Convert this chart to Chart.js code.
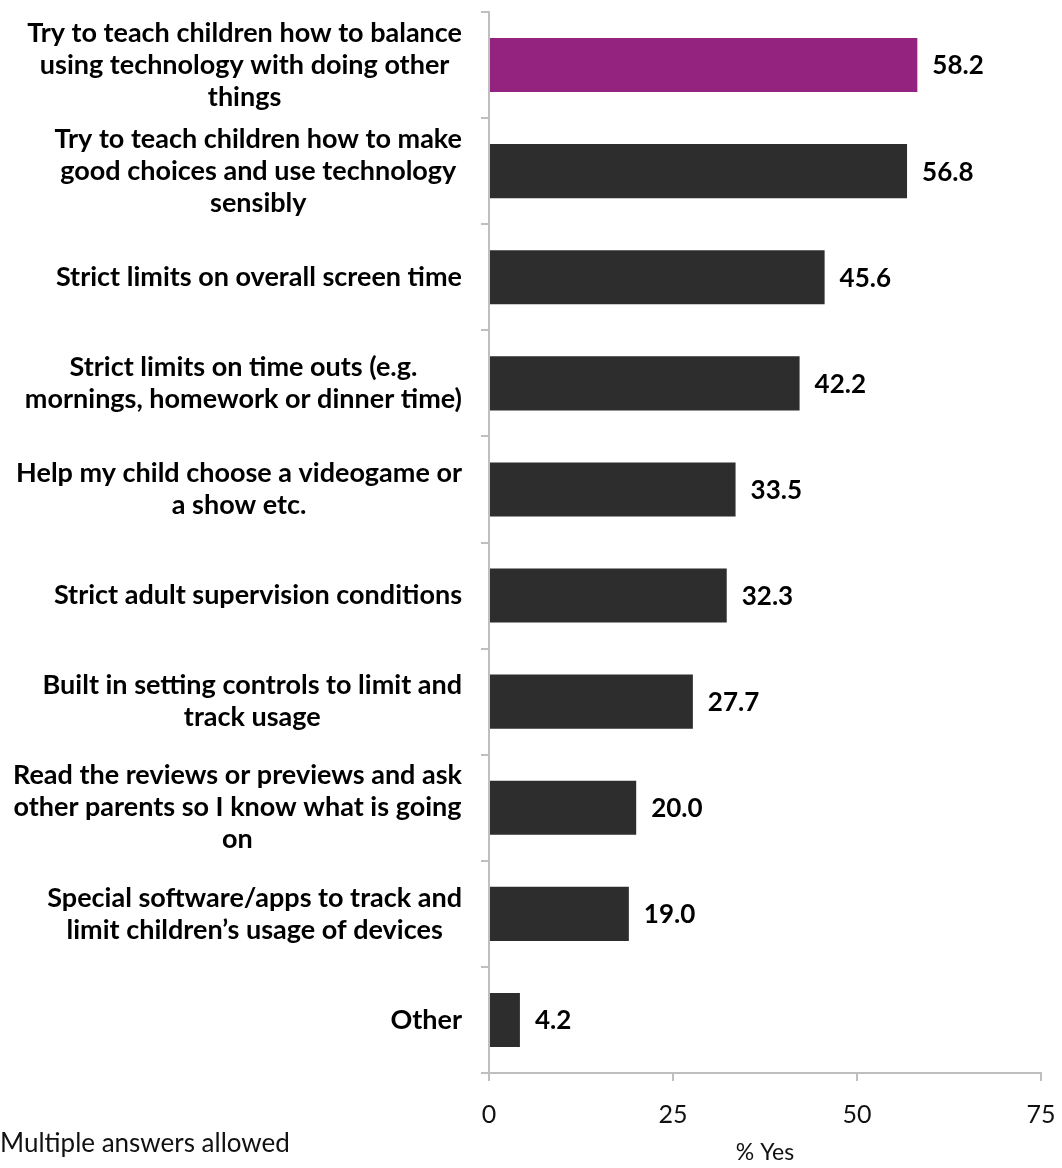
<!DOCTYPE html>
<html>
<head>
<meta charset="utf-8">
<script src="https://cdn.jsdelivr.net/npm/chart.js@4/dist/chart.umd.min.js"></script>
<style>
  html, body { margin: 0; padding: 0; background: #fff; }
  #wrap { position: relative; width: 1062px; height: 1168px; }
  #note {
    position: absolute; left: 0; top: 1126px;
    font: 26px Lato, sans-serif; color: #111;
  }
</style>
</head>
<body>
<div id="wrap">
  <canvas id="chart" width="1062" height="1168"></canvas>
  <div id="note">Multiple answers allowed</div>
</div>
<script>
// categories, one array of lines per label
const categories = [
  ['Try to teach children how to balance', 'using technology with doing other', 'things'],
  ['Try to teach children how to make', 'good choices and use technology', 'sensibly'],
  ['Strict limits on overall screen time'],
  ['Strict limits on time outs (e.g.', 'mornings, homework or dinner time)'],
  ['Help my child choose a videogame or', 'a show etc.'],
  ['Strict adult supervision conditions'],
  ['Built in setting controls to limit and', 'track usage'],
  ['Read the reviews or previews and ask', 'other parents so I know what is going', 'on'],
  ['Special software/apps to track and', 'limit children\u2019s usage of devices'],
  ['Other']
];
const yesPercent = [58.2, 56.8, 45.6, 42.2, 33.5, 32.3, 27.7, 20.0, 19.0, 4.2];
const xTicks = [0, 25, 50, 75];

const FONT = 'Lato, "Open Sans", sans-serif';
const barColors = yesPercent.map((v, i) => i === 0 ? '#93237f' : '#2d2d2d');

// draw the category labels: block right aligned, lines centred in the block
const categoryLabels = {
  id: 'categoryLabels',
  afterDraw(chart) {
    const ctx = chart.ctx;
    const y = chart.scales.y;
    const right = 462;
    const lineH = 32;
    ctx.save();
    ctx.font = 'bold 27px ' + FONT;
    ctx.fillStyle = '#000';
    ctx.textAlign = 'center';
    ctx.textBaseline = 'middle';
    categories.forEach((lines, i) => {
      const w = Math.max(...lines.map(l => ctx.measureText(l).width));
      const cx = right - w / 2;
      const cy = y.getPixelForValue(i);
      const top = cy - (lines.length - 1) * lineH / 2;
      lines.forEach((l, j) => ctx.fillText(l, cx, top + j * lineH));
    });
    ctx.restore();
  }
};

// value labels at the end of each bar
const valueLabels = {
  id: 'valueLabels',
  afterDatasetsDraw(chart) {
    const ctx = chart.ctx;
    const meta = chart.getDatasetMeta(0);
    ctx.save();
    ctx.font = 'bold 26px ' + FONT;
    ctx.fillStyle = '#000';
    ctx.textAlign = 'left';
    ctx.textBaseline = 'middle';
    meta.data.forEach((bar, i) => {
      ctx.fillText(yesPercent[i].toFixed(1), bar.x + 15, bar.y + 1);
    });
    ctx.restore();
  }
};

new Chart(document.getElementById('chart'), {
  type: 'bar',
  data: {
    labels: categories.map(c => c.join(' ')),
    datasets: [{
      data: yesPercent,
      backgroundColor: barColors,
      borderWidth: 0,
      barPercentage: 0.51,
      categoryPercentage: 1.0
    }]
  },
  options: {
    indexAxis: 'y',
    responsive: false,
    animation: false,
    layout: { padding: { top: 12, right: 21, left: 0, bottom: 0 } },
    plugins: {
      legend: { display: false },
      tooltip: { enabled: false }
    },
    scales: {
      x: {
        min: 0,
        max: 75,
        afterBuildTicks(scale) {
          scale.ticks = xTicks.map(v => ({ value: v }));
        },
        afterFit(scale) {
          scale.height = 95;
          scale.paddingRight = 0;
        },
        border: { color: '#bfbfbf', width: 2 },
        grid: {
          drawOnChartArea: false,
          color: '#bfbfbf',
          tickLength: 8,
          lineWidth: 2
        },
        ticks: {
          color: '#111',
          font: { family: FONT, size: 25 },
          padding: 19,
          maxRotation: 0
        },
        title: {
          display: true,
          text: '% Yes',
          color: '#111',
          font: { family: FONT, size: 23 },
          padding: { top: 4, bottom: 2 }
        }
      },
      y: {
        afterFit(scale) { scale.width = 489; },
        border: { color: '#bfbfbf', width: 2 },
        grid: {
          offset: true,
          drawOnChartArea: false,
          color: '#bfbfbf',
          tickLength: 8,
          lineWidth: 2
        },
        ticks: { display: false }
      }
    }
  },
  plugins: [categoryLabels, valueLabels]
});
</script>
</body>
</html>
